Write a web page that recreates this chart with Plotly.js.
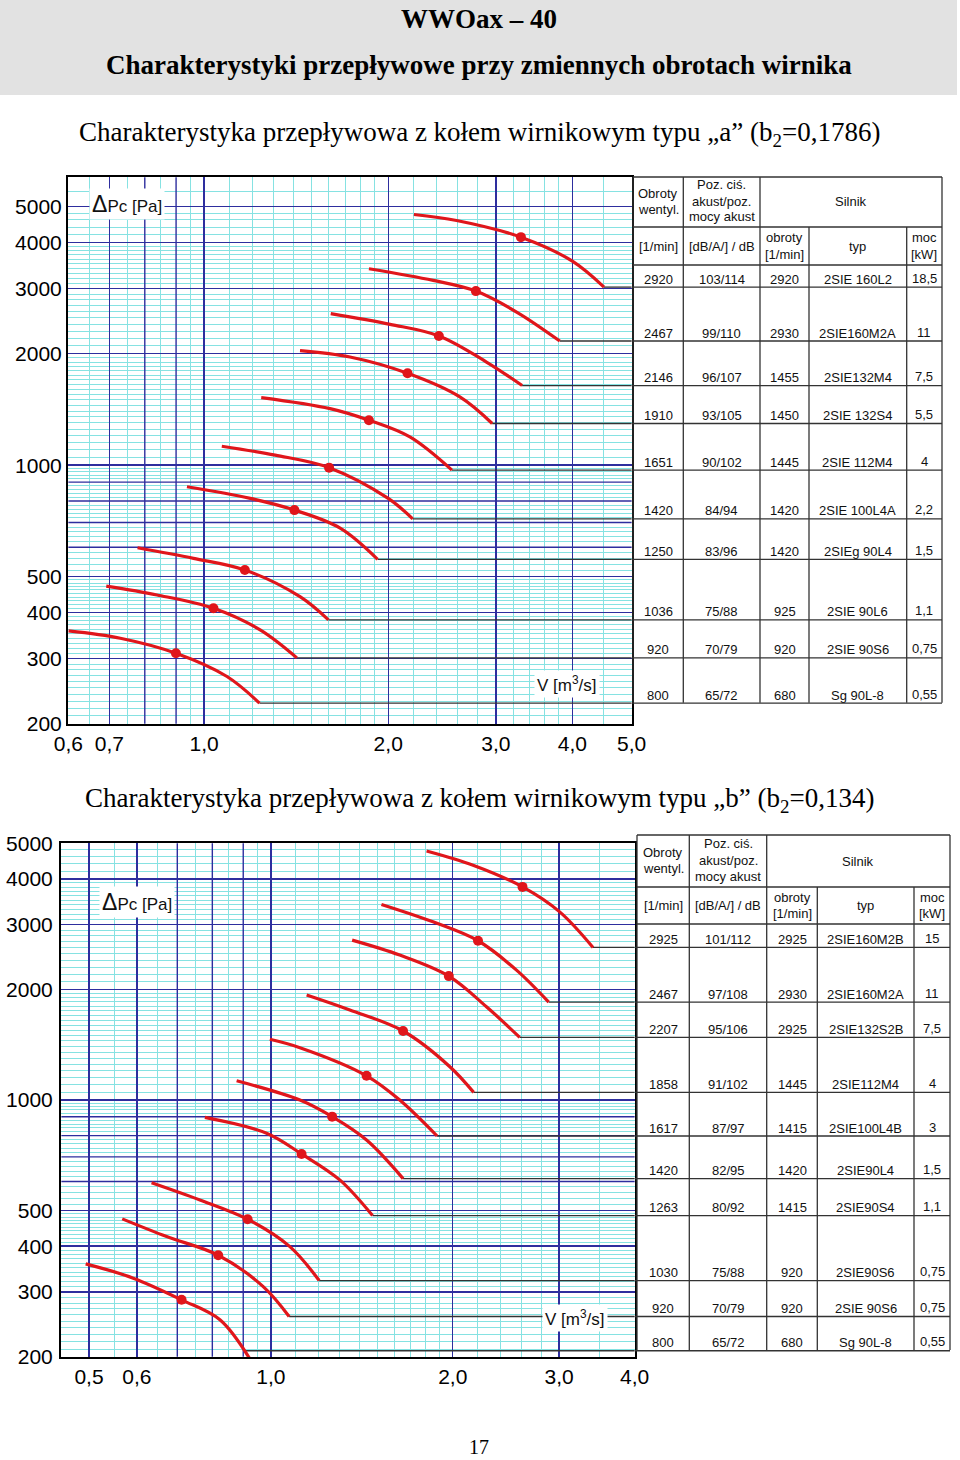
<!DOCTYPE html>
<html><head><meta charset="utf-8">
<script src="https://cdn.plot.ly/plotly-3.0.1.min.js"></script>
<style>body{margin:0;background:#fff}#chart{width:960px;height:1460px}</style>
</head><body><div id="chart"></div>
<script>
// ================= DATA: chart "a" (b2=0,1786) =================
const aFanRpm   = ['2920','2467','2146','1910','1651','1420','1250','1036','920','800'];
const aNoise    = ['103/114','99/110','96/107','93/105','90/102','84/94','83/96','75/88','70/79','65/72'];
const aMotorRpm = ['2920','2930','1455','1450','1445','1420','1420','925','920','680'];
const aMotorTyp = ['2SIE 160L2','2SIE160M2A','2SIE132M4','2SIE 132S4','2SIE 112M4','2SIE 100L4A','2SIEg 90L4','2SIE 90L6','2SIE 90S6','Sg 90L-8'];
const aPower    = ['18,5','11','7,5','5,5','4','2,2','1,5','1,1','0,75','0,55'];
const aCurveV = [
  [2.203,2.587,3.296,4.0,4.506],
  [1.860,2.369,2.782,3.243,3.815],
  [1.611,2.014,2.420,2.895,3.311],
  [1.435,1.732,2.151,2.619,2.958],
  [1.240,1.607,1.860,2.170,2.542],
  [1.069,1.307,1.601,2.0,2.193],
  [0.9376,1.190,1.405,1.669,1.922],
  [0.7785,0.961,1.166,1.435,1.597],
  [0.692,0.8378,1.036,1.235,1.418],
  [0.6005,0.7296,0.8995,1.090,1.232]
];
const aCurveP = [
  [4758,4583,4132,3559,3028],
  [3395,3157,2954,2593,2165],
  [2567,2402,2234,1900,1641],
  [2040,1960,1771,1529,1296],
  [1523,1422,1323,1192,969.5],
  [1125,1064,984.6,813,716],
  [874,813,756,676,556.6],
  [598,560,520.8,441,381.7],
  [471,445.8,410.4,358.7,301.4],
  [356.4,340.6,310.2,268.4,227.4]
];
const aMarkV = [3.296,2.782,2.420,2.151,1.860,1.601,1.405,1.166,1.036,0.8995];
const aMarkP = [4132,2954,2234,1771,1323,984.6,756,520.8,410.4,310.2];
const aRowStartV = [4.506,3.815,3.311,2.958,2.542,2.193,1.922,1.597,1.418,1.232];
const aRowP      = [3028,2165,1641,1296,969.5,716,556.6,381.7,301.4,227.4];

// ================= DATA: chart "b" (b2=0,134) =================
const bFanRpm   = ['2925','2467','2207','1858','1617','1420','1263','1030','920','800'];
const bNoise    = ['101/112','97/108','95/106','91/102','87/97','82/95','80/92','75/88','70/79','65/72'];
const bMotorRpm = ['2925','2930','2925','1445','1415','1420','1415','920','920','680'];
const bMotorTyp = ['2SIE160M2B','2SIE160M2A','2SIE132S2B','2SIE112M4','2SIE100L4B','2SIE90L4','2SIE90S4','2SIE90S6','2SIE 90S6','Sg 90L-8'];
const bPower    = ['15','11','7,5','4','3','1,5','1,1','0,75','0,75','0,55'];
const bCurveV = [
  [1.810,2.161,2.609,3.006,3.413],
  [1.524,1.855,2.202,2.550,2.883],
  [1.363,1.634,1.970,2.274,2.581],
  [1.146,1.351,1.655,1.978,2.166],
  [0.996,1.117,1.440,1.634,1.884],
  [0.8776,1.117,1.263,1.440,1.655],
  [0.7776,0.9837,1.124,1.300,1.473],
  [0.6346,0.7630,0.9151,1.075,1.202],
  [0.5675,0.6721,0.8181,0.9712,1.072],
  [0.4937,0.5919,0.7115,0.8235,0.929]
];
const bCurveP = [
  [4764,4356,3803,3252,2602],
  [3406,3054,2713,2257,1847],
  [2724,2480,2174,1794,1481],
  [1930,1757,1541,1232,1049],
  [1463,1388,1164,1000,798],
  [1128,1000,901,778,611],
  [897,812,713,606,484.5],
  [595.6,534.6,473.7,399,322.5],
  [474.7,424.9,378,310.5,257.4],
  [358,327.4,285.8,252.2,194]
];
const bMarkV = [2.609,2.202,1.970,1.655,1.440,1.263,1.124,0.9151,0.8181,0.7115];
const bMarkP = [3803,2713,2174,1541,1164,901,713,473.7,378,285.8];
const bRowStartV = [3.413,2.883,2.581,2.166,1.884,1.655,1.473,1.202,1.072,0.902];
const bRowP      = [2602,1847,1481,1049,798,611,484.5,322.5,257.4,207.7];

// ================= AXES ticks / grids =================
const aXRange = [0.6,5], aYRange = [200,6000];
const bXRange = [0.45,4], bYRange = [200,5000];
const aXTickVals = [0.6,0.7,1,2,3,4,5];
const aXTickText = ['0,6','0,7','1,0','2,0','3,0','4,0','5,0'];
const aXMajorUnlabeled = [0.8,0.9];
const aXMinor = [0.65,0.75,0.85,0.95,1.1,1.2,1.3,1.4,1.5,1.6,1.7,1.8,1.9,2.2,2.4,2.6,2.8,3.2,3.4,3.6,3.8,4.5];
const bXTickVals = [0.5,0.6,1,2,3,4];
const bXTickText = ['0,5','0,6','1,0','2,0','3,0','4,0'];
const bXMajorUnlabeled = [0.7,0.8,0.9];
const bXMinor = [0.55,0.65,0.75,0.85,0.95,1.1,1.2,1.3,1.4,1.5,1.6,1.7,1.8,1.9,2.2,2.4,2.6,2.8,3.5];
const yTickVals = [200,300,400,500,1000,2000,3000,4000,5000];
const yTickText = ['200','300','400','500','1000','2000','3000','4000','5000'];
const yMajorUnlabeled = [600,700,800,900];
const yMinor = [210,220,230,240,250,260,270,280,290,310,320,330,340,350,360,370,380,390,
  410,420,430,440,450,460,470,480,490,520,540,560,580,620,640,660,680,720,740,760,780,820,840,860,880,920,940,960,980,
  1050,1100,1150,1200,1250,1300,1350,1400,1450,1500,1550,1600,1650,1700,1750,1800,1850,1900,1950,
  2100,2200,2300,2400,2500,2600,2700,2800,2900,3100,3200,3300,3400,3500,3600,3700,3800,3900,4200,4400,4600,4800,5500];

// ================= STYLE =================
const RED = '#e0161b', NAVY = '#2e2e9e', CYAN = '#86e2e2', LINE = '#333';
const FONT = 'Liberation Sans, Arial, sans-serif';
const SERIF = 'Liberation Serif, Times New Roman, serif';
const X = px => px/960;
const Y = py => 1 - py/1460;

const traces = [];
// unlabeled navy grid lines (drawn first, beneath curves, above minor grid)
function navyGrid(xr, yr, xs, ys, xRange, yRange) {
  xs.forEach(v => traces.push({type:'scatter', mode:'lines', x:[v,v], y:yRange, xaxis:xr, yaxis:yr,
    line:{color:NAVY, width:1.4}, hoverinfo:'skip'}));
  ys.forEach(v => traces.push({type:'scatter', mode:'lines', x:xRange, y:[v,v], xaxis:xr, yaxis:yr,
    line:{color:NAVY, width:1.4}, hoverinfo:'skip'}));
}
navyGrid('x','y',aXMajorUnlabeled,yMajorUnlabeled,aXRange,aYRange);
navyGrid('x2','y2',bXMajorUnlabeled,yMajorUnlabeled,bXRange,bYRange);

function addChart(curveV, curveP, markV, markP, rowStartV, rowP, xr, yr, xmax) {
  for (let i=0;i<curveV.length;i++) {
    traces.push({type:'scatter', mode:'lines', x:[rowStartV[i], xmax], y:[rowP[i], rowP[i]],
      xaxis:xr, yaxis:yr, line:{color:LINE, width:1.3}, hoverinfo:'skip'});
  }
  for (let i=0;i<curveV.length;i++) {
    traces.push({type:'scatter', mode:'lines', x:curveV[i], y:curveP[i], xaxis:xr, yaxis:yr,
      line:{color:RED, width:3.2, shape:'spline', smoothing:1}, hoverinfo:'skip'});
  }
  traces.push({type:'scatter', mode:'markers', x:markV, y:markP, xaxis:xr, yaxis:yr,
    marker:{color:RED, size:10}, hoverinfo:'skip'});
}
addChart(aCurveV,aCurveP,aMarkV,aMarkP,aRowStartV,aRowP,'x','y',aXRange[1]);
addChart(bCurveV,bCurveP,bMarkV,bMarkP,bRowStartV,bRowP,'x2','y2',bXRange[1]);

function xAxis(domain, r, tv, tt, minor, anchor) {
  return {type:'log', domain:domain, range:[Math.log10(r[0])-0.0006, Math.log10(r[1])+0.0006], anchor:anchor,
    tickmode:'array', tickvals:tv, ticktext:tt, ticks:'', ticklabelstandoff:0,
    tickfont:{family:FONT, size:21, color:'#000'},
    showgrid:true, gridcolor:NAVY, gridwidth:1.4,
    minor:{tickmode:'array', tickvals:minor, showgrid:true, gridcolor:CYAN, gridwidth:1, ticks:''},
    showline:true, mirror:true, linecolor:'#000', linewidth:2, zeroline:false, fixedrange:true};
}
function yAxis(domain, r, anchor, standoff) {
  return {type:'log', domain:domain, range:[Math.log10(r[0])-0.0006, Math.log10(r[1])+0.0006], anchor:anchor,
    tickmode:'array', tickvals:yTickVals, ticktext:yTickText, ticks:'', ticklabelstandoff:standoff,
    tickfont:{family:FONT, size:21, color:'#000'},
    showgrid:true, gridcolor:NAVY, gridwidth:1.4,
    minor:{tickmode:'array', tickvals:yMinor, showgrid:true, gridcolor:CYAN, gridwidth:1, ticks:''},
    showline:true, mirror:true, linecolor:'#000', linewidth:2, zeroline:false, fixedrange:true};
}

const shapes = [];
const annotations = [];
function hl(x0,x1,py,w){shapes.push({type:'line',xref:'paper',yref:'paper',x0:X(x0),x1:X(x1),y0:Y(py),y1:Y(py),line:{color:LINE,width:w||1.3}});}
function vl(px,y0,y1,w){shapes.push({type:'line',xref:'paper',yref:'paper',x0:X(px),x1:X(px),y0:Y(y0),y1:Y(y1),line:{color:LINE,width:w||1.3}});}
function txt(t,px,py,size,extra){annotations.push(Object.assign({text:t,xref:'paper',yref:'paper',x:X(px),y:Y(py),
  xanchor:'center',yanchor:'middle',showarrow:false,font:{family:FONT,size:size||13,color:'#111'}},extra||{}));}
function lines(arr,px,pyMid){const n=arr.length;arr.forEach((s,i)=>txt(s,px,pyMid+(i-(n-1)/2)*16));}

// header band
shapes.push({type:'rect',xref:'paper',yref:'paper',x0:0,x1:X(957),y0:Y(95),y1:1,fillcolor:'#e2e2e2',line:{width:0},layer:'below'});
const SF = {family:SERIF,size:27,color:'#000'};
txt('<b>WWOax – 40</b>',479,19,27,{font:SF});
txt('<b>Charakterystyki przepływowe przy zmiennych obrotach wirnika</b>',479,65,27,{font:SF});
txt('Charakterystyka przepływowa z kołem wirnikowym typu „a” (b<sub>2</sub>=0,1786)',479,134,27,{font:SF});
txt('Charakterystyka przepływowa z kołem wirnikowym typu „b” (b<sub>2</sub>=0,134)',479,800,27,{font:SF});
txt('17',479,1447,20,{font:{family:SERIF,size:20,color:'#000'}});

// axis captions
const dp = '<span style="font-size:23px">Δ</span>Pc [Pa]';
txt(dp,127,204,17,{bgcolor:'#fff',borderpad:2,font:{family:FONT,size:17,color:'#111'}});
txt('V [m<sup>3</sup>/s]',567,684,17,{bgcolor:'#fff',borderpad:2,font:{family:FONT,size:17,color:'#111'}});
txt(dp,137,902,17,{bgcolor:'#fff',borderpad:2,font:{family:FONT,size:17,color:'#111'}});
txt('V [m<sup>3</sup>/s]',575,1318,17,{bgcolor:'#fff',borderpad:2,font:{family:FONT,size:17,color:'#111'}});

// ---- table builder
function table(cols, top, h1, h2, bottom, rowP, yref, fan, noise, mrpm, typ, pow, plotRight) {
  const [c0,c1,c2,c3,c4,c5] = cols;
  hl(c0,c5,top); hl(c0,c5,h1); hl(c0,c5,h2);
  vl(c0,top,bottom); vl(c1,top,bottom); vl(c2,top,bottom); vl(c3,h1,bottom); vl(c4,h1,bottom); vl(c5,top,bottom);
  const m = (a,b)=>(a+b)/2;
  const hy1 = m(top,h1), hy2 = m(h1,h2);
  lines(['Obroty','wentyl.'],m(c0,c1),hy1-1);
  lines(['Poz. ciś.','akust/poz.','mocy akust'],m(c1,c2),hy1-1);
  txt('Silnik',m(c2,c5),hy1);
  txt('[1/min]',m(c0,c1),hy2);
  txt('[dB/A/] / dB',m(c1,c2),hy2);
  lines(['obroty','[1/min]'],m(c2,c3),hy2);
  txt('typ',m(c3,c4),hy2);
  lines(['moc','[kW]'],m(c4,c5),hy2);
  const colsTxt = [fan,noise,mrpm,typ,pow];
  const cx = [m(c0,c1),m(c1,c2),m(c2,c3),m(c3,c4),m(c4,c5)];
  for (let i=0;i<rowP.length;i++) {
    shapes.push({type:'line',xref:'paper',yref:yref,x0:X(plotRight),x1:X(c5),y0:rowP[i],y1:rowP[i],line:{color:LINE,width:1.3}});
    for (let k=0;k<5;k++) {
      annotations.push({text:colsTxt[k][i],xref:'paper',yref:yref,x:X(cx[k]),y:Math.log10(rowP[i]),
        xanchor:'center',yanchor:'middle',yshift:k===4?9:8,showarrow:false,font:{family:FONT,size:13,color:'#111'}});
    }
  }
}
table([633,683.3,760,809,906.7,942],177,227,265,702.7,aRowP,'y',aFanRpm,aNoise,aMotorRpm,aMotorTyp,aPower,632);
table([637,689.3,766.7,817.3,914,950],835,887,924,1350,bRowP,'y2',bFanRpm,bNoise,bMotorRpm,bMotorTyp,bPower,635);

const layout = {
  width:960, height:1460, margin:{l:0,r:0,t:0,b:0},
  paper_bgcolor:'#fff', plot_bgcolor:'#fff', showlegend:false, hovermode:false,
  xaxis: xAxis([X(68),X(632)],aXRange,aXTickVals,aXTickText,aXMinor,'y'),
  yaxis: yAxis([Y(724),Y(177)],aYRange,'x',0),
  xaxis2: xAxis([X(61),X(635)],bXRange,bXTickVals,bXTickText,bXMinor,'y2'),
  yaxis2: yAxis([Y(1357),Y(843)],bYRange,'x2',2),
  shapes:shapes, annotations:annotations
};
Plotly.newPlot('chart', traces, layout, {staticPlot:true, displayModeBar:false});
</script>
</body></html>
